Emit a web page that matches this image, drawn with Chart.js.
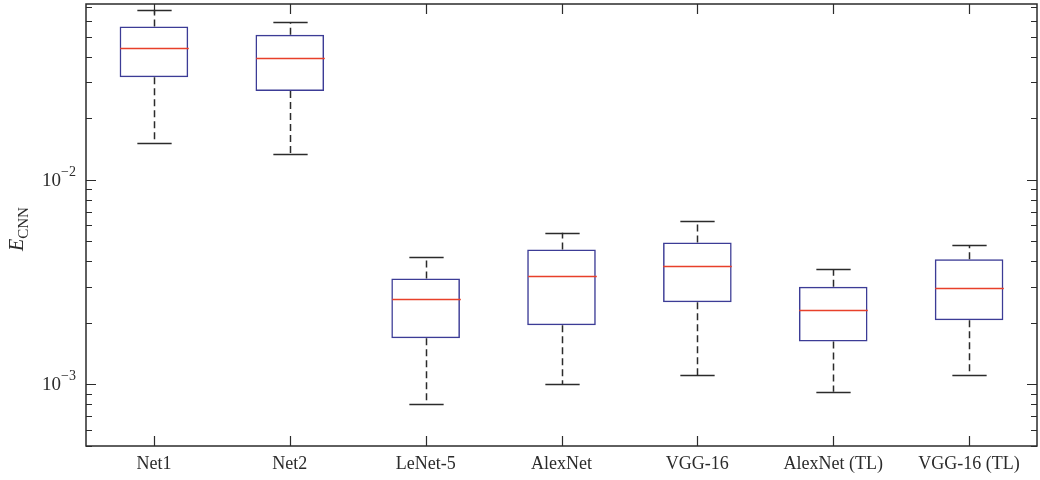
<!DOCTYPE html>
<html>
<head>
<meta charset="utf-8">
<script src="https://cdn.jsdelivr.net/npm/chart.js@4/dist/chart.umd.min.js"></script>
<style>
  html, body { margin: 0; padding: 0; background: #fff; }
  #wrap { width: 1040px; height: 480px; position: relative; }
</style>
</head>
<body>
<div id="wrap"><canvas id="boxChart"></canvas></div>
<script>
// --- data ---
const categories = ['Net1', 'Net2', 'LeNet-5', 'AlexNet', 'VGG-16', 'AlexNet (TL)', 'VGG-16 (TL)'];
const whiskerLow  = [0.0152, 0.0134, 0.00080, 0.00100, 0.00111, 0.00092, 0.00111];
const quartile1   = [0.0318, 0.0272, 0.00168, 0.00195, 0.00252, 0.00162, 0.00206];
const medians     = [0.0440, 0.0394, 0.00262, 0.00340, 0.00378, 0.00230, 0.00297];
const quartile3   = [0.0563, 0.0513, 0.00330, 0.00457, 0.00494, 0.00300, 0.00409];
const whiskerHigh = [0.0679, 0.0592, 0.00422, 0.00551, 0.00633, 0.00367, 0.00479];

const yMajorTicks = [1e-3, 1e-2];
const yMajorLabels = [['10', '\u22123'], ['10', '\u22122']];
const yMinorTicks = [5e-4, 6e-4, 7e-4, 8e-4, 9e-4,
                     2e-3, 3e-3, 4e-3, 5e-3, 6e-3, 7e-3, 8e-3, 9e-3,
                     2e-2, 3e-2, 4e-2, 5e-2, 6e-2, 7e-2];

const SERIF = '"Liberation Serif", "DejaVu Serif", serif';
const INK = '#2b2b2b';

// --- whiskers, medians, frame, ticks, labels ---
const boxDecor = {
    id: 'boxDecor',
    afterDatasetsDraw(chart) {
        const ctx = chart.ctx;
        const xs = chart.scales.x;
        const ys = chart.scales.y;
        const area = chart.chartArea;
        const bars = chart.getDatasetMeta(0).data;

        ctx.save();
        categories.forEach((c, i) => {
            const x = Math.round(xs.getPixelForValue(i)) + 0.5;
            const half = bars[i].width / 2;
            const cap = half / 2;

            // dashed whiskers
            ctx.strokeStyle = INK;
            ctx.lineWidth = 1.5;
            ctx.setLineDash([7, 4]);
            ctx.beginPath();
            ctx.moveTo(x, ys.getPixelForValue(quartile3[i]));
            ctx.lineTo(x, ys.getPixelForValue(whiskerHigh[i]));
            ctx.moveTo(x, ys.getPixelForValue(quartile1[i]));
            ctx.lineTo(x, ys.getPixelForValue(whiskerLow[i]));
            ctx.stroke();

            // caps
            ctx.setLineDash([]);
            ctx.beginPath();
            [whiskerHigh[i], whiskerLow[i]].forEach(v => {
                const y = Math.round(ys.getPixelForValue(v)) + 0.5;
                ctx.moveTo(x - cap, y);
                ctx.lineTo(x + cap, y);
            });
            ctx.stroke();

            // median
            const ym = Math.round(ys.getPixelForValue(medians[i])) + 0.5;
            ctx.strokeStyle = '#e8402a';
            ctx.lineWidth = 1.5;
            ctx.beginPath();
            ctx.moveTo(x - half, ym);
            ctx.lineTo(x + half, ym);
            ctx.stroke();
        });

        // frame
        ctx.strokeStyle = INK;
        ctx.lineWidth = 1.5;
        ctx.strokeRect(area.left, area.top, area.right - area.left, area.bottom - area.top);

        // inward ticks
        ctx.lineWidth = 1.2;
        ctx.beginPath();
        categories.forEach((c, i) => {
            const x = Math.round(xs.getPixelForValue(i)) + 0.5;
            ctx.moveTo(x, area.bottom); ctx.lineTo(x, area.bottom - 10);
            ctx.moveTo(x, area.top); ctx.lineTo(x, area.top + 10);
        });
        yMajorTicks.forEach(v => {
            const y = Math.round(ys.getPixelForValue(v)) + 0.5;
            ctx.moveTo(area.left, y); ctx.lineTo(area.left + 10, y);
            ctx.moveTo(area.right, y); ctx.lineTo(area.right - 10, y);
        });
        yMinorTicks.forEach(v => {
            const y = Math.round(ys.getPixelForValue(v)) + 0.5;
            ctx.moveTo(area.left, y); ctx.lineTo(area.left + 6, y);
            ctx.moveTo(area.right, y); ctx.lineTo(area.right - 6, y);
        });
        ctx.stroke();

        // y tick labels 10^n
        ctx.fillStyle = INK;
        ctx.textBaseline = 'alphabetic';
        ctx.textAlign = 'right';
        yMajorTicks.forEach((v, k) => {
            const y = ys.getPixelForValue(v);
            const [base, exp] = yMajorLabels[k];
            const xr = area.left - 10;
            ctx.font = '14px ' + SERIF;
            const ew = ctx.measureText(exp).width;
            ctx.fillText(exp, xr, y - 4);
            ctx.font = '19px ' + SERIF;
            ctx.fillText(base, xr - ew, y + 6);
        });

        // y title E_CNN
        ctx.translate(23, 251);
        ctx.rotate(-Math.PI / 2);
        ctx.textAlign = 'left';
        ctx.font = 'italic 20px ' + SERIF;
        ctx.fillText('E', 0, 0);
        const ew = ctx.measureText('E').width;
        ctx.font = '15px ' + SERIF;
        ctx.fillText('CNN', ew, 5);
        ctx.restore();
    }
};

new Chart(document.getElementById('boxChart'), {
    type: 'bar',
    data: {
        labels: categories,
        datasets: [{
            data: categories.map((c, i) => [quartile1[i], quartile3[i]]),
            backgroundColor: 'rgba(0,0,0,0)',
            borderColor: '#3c3c96',
            borderWidth: 1.5,
            borderSkipped: false,
            barPercentage: 0.505,
            categoryPercentage: 1
        }]
    },
    options: {
        responsive: true,
        maintainAspectRatio: false,
        animation: false,
        layout: { padding: { left: 86, right: 3, top: 4, bottom: 0 } },
        plugins: {
            legend: { display: false },
            tooltip: { enabled: false }
        },
        scales: {
            x: {
                grid: { display: false, drawTicks: false },
                border: { display: false },
                ticks: { color: INK, font: { family: SERIF, size: 18 }, padding: 7, maxRotation: 0 },
                afterFit: s => { s.height = 34; }
            },
            y: {
                type: 'logarithmic',
                min: 5e-4,
                max: 0.0725,
                grid: { display: false, drawTicks: false },
                border: { display: false },
                ticks: { display: false },
                afterFit: s => { s.width = 0; }
            }
        }
    },
    plugins: [boxDecor]
});
</script>
</body>
</html>
